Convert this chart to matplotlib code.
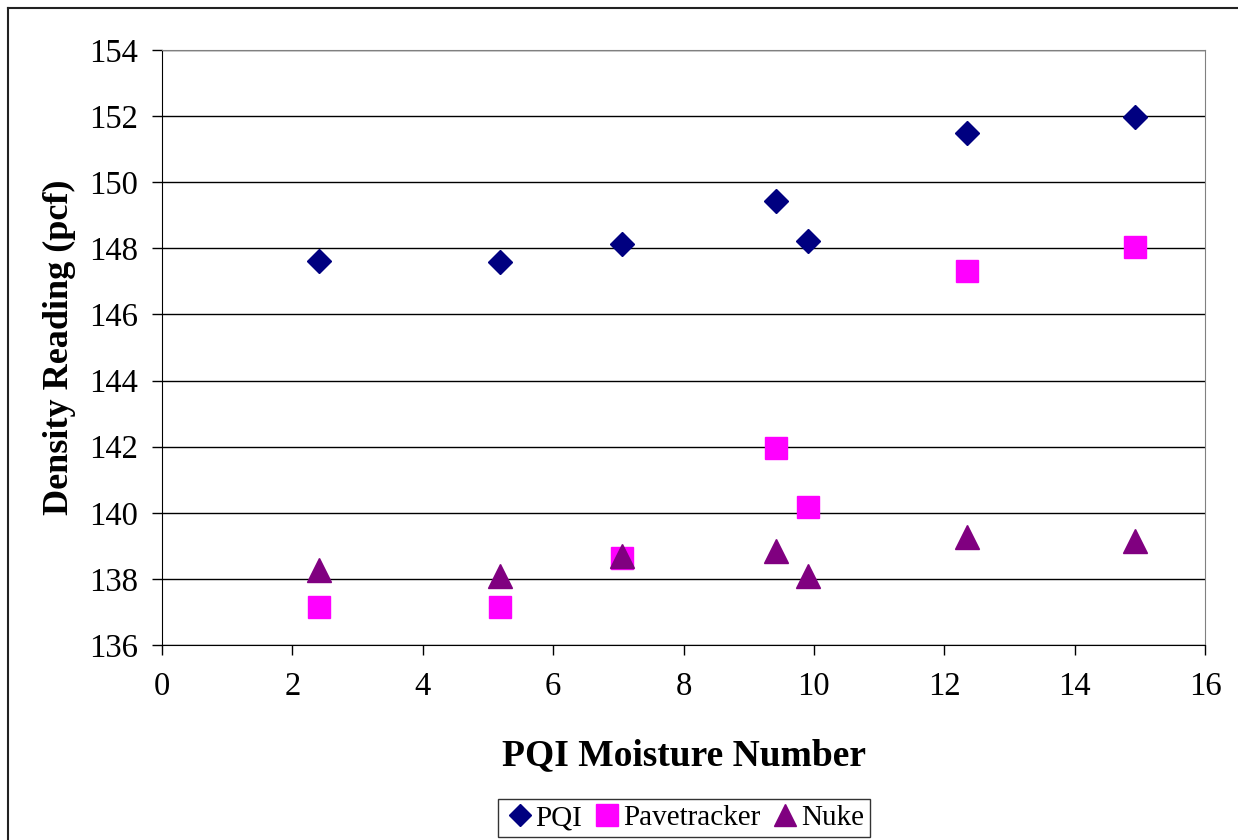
import matplotlib.pyplot as plt
from matplotlib.lines import Line2D

plt.rcParams['font.family'] = ['Liberation Serif', 'DejaVu Serif']

# moisture number readings (x) and density readings (pcf)
moisture = [2.41, 5.18, 7.06, 9.42, 9.91, 12.35, 14.93]
pqi = [147.62, 147.59, 148.13, 149.43, 148.22, 151.49, 151.97]
pavetracker = [137.15, 137.15, 138.63, 141.95, 140.18, 147.32, 148.04]
nuke = [138.26, 138.08, 138.68, 138.83, 138.10, 139.28, 139.15]

fig = plt.figure(figsize=(12.38, 8.4), dpi=100)
ax = fig.add_axes([162/1238, 1 - 645/840, (1205 - 162)/1238, (645 - 50)/840])

ax.plot(moisture, pqi, linestyle='none', marker='D', markersize=12,
        color='#000080', label='PQI', clip_on=False)
ax.plot(moisture, pavetracker, linestyle='none', marker='s', markersize=16.5,
        color='#FF00FF', label='Pavetracker', clip_on=False)
ax.plot(moisture, nuke, linestyle='none', marker='^', markersize=17,
        color='#800080', label='Nuke', clip_on=False)

ax.set_xlim(0, 16)
ax.set_ylim(136, 154)
ax.set_xticks(range(0, 17, 2))
ax.set_yticks(range(136, 155, 2))
ax.grid(axis='y', color='black', linewidth=1)
ax.set_axisbelow(True)
ax.tick_params(direction='out', length=7, width=1, labelsize=23.5, colors='black')
ax.tick_params(axis='x', pad=12)
ax.tick_params(axis='y', pad=10)

for side in ['top', 'right']:
    ax.spines[side].set_color('#808080')
for side in ['left', 'bottom']:
    ax.spines[side].set_color('black')

ax.set_xlabel('PQI Moisture Number', fontsize=27, fontweight='bold', labelpad=26)
ax.set_ylabel('Density Reading (pcf)', fontsize=26, fontweight='bold', labelpad=10)

leg = fig.legend(loc='center', bbox_to_anchor=(684/1238, 1 - 818/840), ncol=3,
                 fontsize=21, frameon=True, fancybox=False, edgecolor='black',
                 handletextpad=0.0, columnspacing=0.3, borderpad=0.2,
                 handlelength=1.1, markerscale=0.95)
leg.get_frame().set_linewidth(1)

# outer chart frame (only left and top visible)
fig.add_artist(Line2D([8/1238, 8/1238], [0, 1 - 8/840], color='#222222', linewidth=1.5))
fig.add_artist(Line2D([8/1238, 1], [1 - 8/840, 1 - 8/840], color='#222222', linewidth=1.5))

fig.savefig('out.png', dpi=100)
